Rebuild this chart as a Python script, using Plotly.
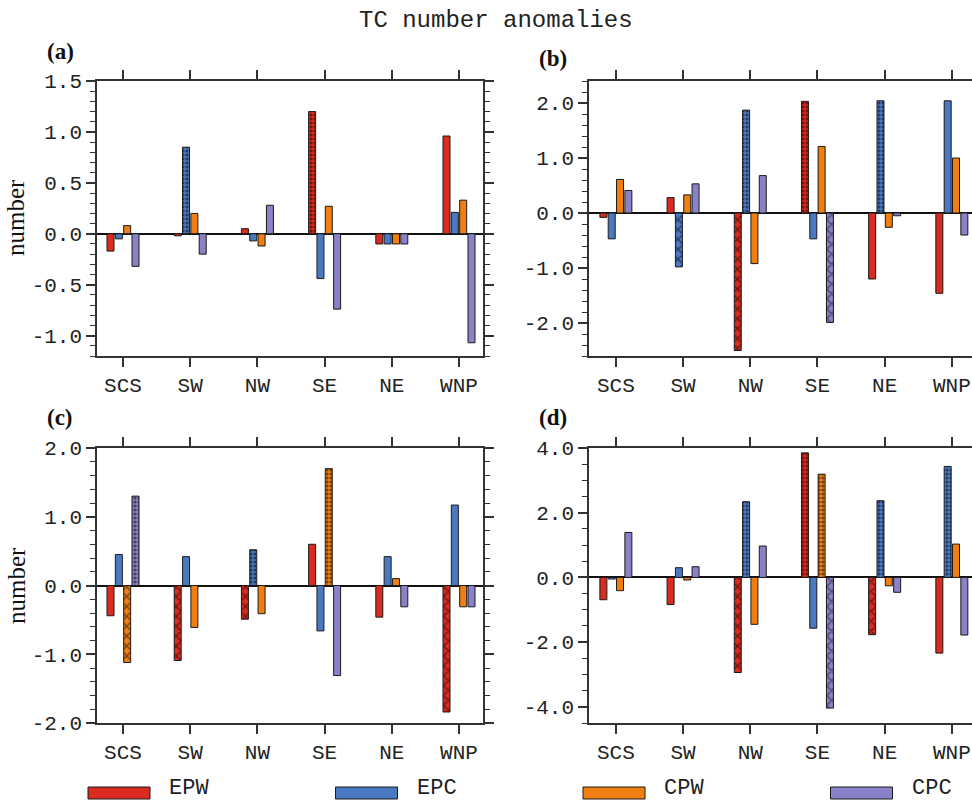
import plotly.graph_objects as go

# ---------------- data ----------------
categories = ["SCS", "SW", "NW", "SE", "NE", "WNP"]
series = ["EPW", "EPC", "CPW", "CPC"]
colors = ["#D92B1F", "#4A79C2", "#F07E11", "#8A82C8"]

# panel (a)
a_EPW = [-0.17, -0.02, 0.05, 1.20, -0.10, 0.96]
a_EPC = [-0.05, 0.85, -0.07, -0.44, -0.10, 0.21]
a_CPW = [0.08, 0.20, -0.12, 0.27, -0.10, 0.33]
a_CPC = [-0.32, -0.20, 0.28, -0.74, -0.10, -1.07]
# panel (b)
b_EPW = [-0.08, 0.28, -2.50, 2.03, -1.20, -1.46]
b_EPC = [-0.47, -0.98, 1.87, -0.47, 2.04, 2.04]
b_CPW = [0.61, 0.33, -0.92, 1.21, -0.26, 1.00]
b_CPC = [0.41, 0.53, 0.68, -1.99, -0.05, -0.40]
# panel (c)
c_EPW = [-0.44, -1.09, -0.49, 0.60, -0.46, -1.84]
c_EPC = [0.45, 0.42, 0.52, -0.66, 0.42, 1.17]
c_CPW = [-1.12, -0.61, -0.41, 1.70, 0.10, -0.31]
c_CPC = [1.30, 0.0, 0.0, -1.31, -0.31, -0.31]
# panel (d)
d_EPW = [-0.69, -0.84, -2.94, 3.85, -1.77, -2.34]
d_EPC = [-0.05, 0.30, 2.34, -1.57, 2.37, 3.43]
d_CPW = [-0.41, -0.08, -1.45, 3.19, -0.26, 1.03]
d_CPC = [1.39, 0.33, 0.97, -4.04, -0.46, -1.78]

# significance fill ("." stippled, "x" cross-hatched, "" plain)
a_sig = [["", "", "", ".", "", ""], ["", ".", "", "", "", ""],
         ["", "", "", "", "", ""], ["", "", "", "", "", ""]]
b_sig = [["", "", "x", ".", "", ""], ["", "x", ".", "", ".", ""],
         ["", "", "", "", "", ""], ["", "", "", "x", "", ""]]
c_sig = [["", "x", "x", "", "", "x"], ["", "", ".", "", "", ""],
         ["x", "", "", ".", "", ""], [".", "", "", "", "", ""]]
d_sig = [["", "", "x", ".", "x", ""], ["", "", ".", "", ".", "."],
         ["", "", "", ".", "", ""], ["", "", "", "x", "", ""]]

# y-axis ticks per panel
a_ticks = [-1.0, -0.5, 0.0, 0.5, 1.0, 1.5]
b_ticks = [-2.0, -1.0, 0.0, 1.0, 2.0]
c_ticks = [-2.0, -1.0, 0.0, 1.0, 2.0]
d_ticks = [-4.0, -2.0, 0.0, 2.0, 4.0]

panel_labels = ["(a)", "(b)", "(c)", "(d)"]
title_text = "TC number anomalies"
ylabel_text = "number"

# ---------------- layout helpers ----------------
W, H = 972, 802
def px(x):
    return x / W
def py(y):
    return (H - y) / H

MONO = "Liberation Mono, Courier New, monospace"
SERIF = "Liberation Serif, Times New Roman, serif"
AX = "#333333"

panels = [
    dict(vals=[a_EPW, a_EPC, a_CPW, a_CPC], sig=a_sig, ticks=a_ticks,
         yr=[-1.2, 1.5], minor=0.1, xd=[97, 483], yd=[81, 356], xr=[-0.387, 5.357], mirror=True),
    dict(vals=[b_EPW, b_EPC, b_CPW, b_CPC], sig=b_sig, ticks=b_ticks,
         yr=[-2.6, 2.4], minor=0.2, xd=[589, 972], yd=[81, 356], xr=[-0.40, 5.30], mirror=False),
    dict(vals=[c_EPW, c_EPC, c_CPW, c_CPC], sig=c_sig, ticks=c_ticks,
         yr=[-2.0, 2.0], minor=0.2, xd=[97, 483], yd=[448, 723], xr=[-0.387, 5.357], mirror=True),
    dict(vals=[d_EPW, d_EPC, d_CPW, d_CPC], sig=d_sig, ticks=d_ticks,
         yr=[-4.5, 4.0], minor=0.5, xd=[589, 972], yd=[448, 723], xr=[-0.40, 5.30], mirror=False),
]

pat_size = {"": 6, ".": 4, "x": 7}
pat_sol = {"": 0.3, ".": 0.5, "x": 0.35}

fig = go.Figure()
layout = {}
for i, p in enumerate(panels):
    n = "" if i == 0 else str(i + 1)
    for j, name in enumerate(series):
        shapes_ = p["sig"][j]
        fig.add_trace(go.Bar(
            x=categories, y=p["vals"][j], name=name, showlegend=False,
            xaxis="x" + n, yaxis="y" + n,
            marker=dict(
                color=colors[j],
                line=dict(color="#1a1a1a", width=1),
                pattern=dict(shape=shapes_, fgcolor="black", fillmode="overlay",
                             size=[pat_size[s] for s in shapes_],
                             solidity=[pat_sol[s] for s in shapes_]),
            ),
        ))
    layout["xaxis" + n] = dict(
        domain=[px(p["xd"][0]), px(p["xd"][1])], anchor="y" + n, automargin=False,
        type="category", range=p["xr"], showgrid=False,
        showline=True, linecolor=AX, linewidth=1.5,
        mirror="ticks", ticks="outside", ticklen=9, tickwidth=1.5, tickcolor=AX,
        tickfont=dict(family=MONO, size=21, color="#222"),
    )
    layout["yaxis" + n] = dict(
        domain=[py(p["yd"][1]), py(p["yd"][0])], anchor="x" + n, automargin=False,
        range=p["yr"], showgrid=False,
        tickmode="array", tickvals=p["ticks"], ticktext=[f"{v:.1f}" for v in p["ticks"]],
        showline=True, linecolor=AX, linewidth=1.5,
        mirror="ticks" if p["mirror"] else False,
        ticks="outside", ticklen=9, tickwidth=1.5, tickcolor=AX,
        minor=dict(tickmode="linear", tick0=0, dtick=p["minor"], ticks="outside",
                   ticklen=5, tickwidth=1.2, tickcolor=AX, showgrid=False),
        zeroline=True, zerolinecolor="#111", zerolinewidth=1.8,
        tickfont=dict(family=MONO, size=21, color="#222"),
    )

annotations = [
    dict(text=title_text, x=px(496), y=py(20), xref="paper", yref="paper",
         showarrow=False, font=dict(family=MONO, size=24, color="#222"),
         xanchor="center", yanchor="middle"),
]
label_pos = [(45, 52), (537, 58), (45, 417), (537, 417)]
for lab, (lx, ly) in zip(panel_labels, label_pos):
    annotations.append(dict(text="<b>" + lab + "</b>", x=px(lx), y=py(ly), xref="paper", yref="paper",
                            showarrow=False, xanchor="left", yanchor="middle",
                            font=dict(family=SERIF, size=23, color="#111")))
for cy in (218, 586):
    annotations.append(dict(text=ylabel_text, x=px(16), y=py(cy), xref="paper", yref="paper",
                            showarrow=False, textangle=-90, xanchor="center", yanchor="middle",
                            font=dict(family=SERIF, size=25, color="#111")))

# legend as boxes + text
shapes = []
leg_x0, leg_step = 88, 247.5
for j, name in enumerate(series):
    x0 = leg_x0 + j * leg_step
    shapes.append(dict(type="rect", xref="paper", yref="paper",
                       x0=px(x0), x1=px(x0 + 62), y0=py(799), y1=py(787),
                       fillcolor=colors[j], line=dict(color="#1a1a1a", width=1)))
    annotations.append(dict(text=name, x=px(x0 + 80), y=py(802), xref="paper", yref="paper",
                            showarrow=False, xanchor="left", yanchor="bottom", borderpad=0,
                            font=dict(family=MONO, size=22, color="#222")))

fig.update_layout(
    width=W, height=H, margin=dict(l=0, r=0, t=0, b=0, autoexpand=False),
    paper_bgcolor="white", plot_bgcolor="white",
    barmode="group", bargap=0.504, bargroupgap=0.16,
    annotations=annotations, shapes=shapes, **layout,
)
fig.write_html("out.html", config={"displayModeBar": False},
               post_script="document.body.style.margin='0px';document.body.style.overflow='hidden';")
